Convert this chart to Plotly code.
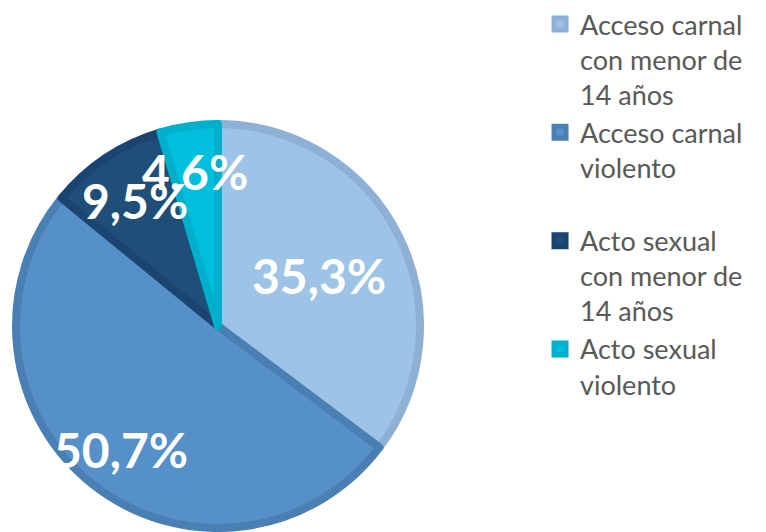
import math
import plotly.graph_objects as go

# Data
categories = ['Acceso carnal<br>con menor de<br>14 años',
              'Acceso carnal<br>violento<br> ',
              'Acto sexual<br>con menor de<br>14 años',
              'Acto sexual<br>violento']
values = [35.3, 50.7, 9.5, 4.6]
value_labels = ['35,3%', '50,7%', '9,5%', '4,6%']

fill_colors = ['#9DC3E6', '#5590C8', '#1F4E79', '#00BFDD']
line_colors = ['#8DB0D4', '#4A7FB4', '#1B4470', '#00AFCB']

W, H = 766, 532
cx, cy, R = 218, 326, 202  # pie centre and radius in px

fig = go.Figure()

fig.add_trace(go.Pie(
    labels=categories,
    values=values,
    sort=False,
    direction='clockwise',
    rotation=0,
    textinfo='none',
    hoverinfo='label+percent',
    marker=dict(colors=fill_colors, line=dict(color=line_colors, width=8)),
    domain=dict(x=[(cx - R) / W, (cx + R) / W],
                y=[1 - (cy + R) / H, 1 - (cy - R) / H]),
))

# Percentage labels placed at each slice's mid angle
radial = [0.55, 0.76, 0.73, 0.76]
total = sum(values)
cum = 0
for v, lab, k in zip(values, value_labels, radial):
    mid = (cum + v / 2) / total * 2 * math.pi
    cum += v
    px = cx + k * (R + 4) * math.sin(mid)
    py = cy - k * (R + 4) * math.cos(mid)
    fig.add_annotation(
        x=px / W, y=1 - py / H, xref='paper', yref='paper',
        text=f'<b>{lab}</b>', showarrow=False,
        font=dict(family='Lato', size=48, color='white'),
        xanchor='center', yanchor='middle',
    )

fig.update_layout(
    width=W, height=H,
    margin=dict(l=0, r=0, t=0, b=0),
    paper_bgcolor='white',
    plot_bgcolor='white',
    showlegend=True,
    legend=dict(
        x=0.705, y=1.0, xanchor='left', yanchor='top',
        valign='top',
        font=dict(family='Lato', size=27, color='#595959'),
        bgcolor='rgba(0,0,0,0)',
    ),
)

fig.write_html("out.html", config={'displayModeBar': False},
               post_script="document.body.style.margin='0';")
